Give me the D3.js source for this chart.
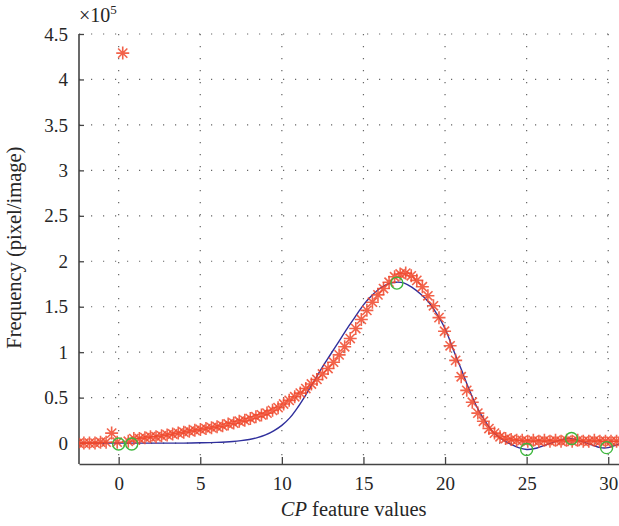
<!DOCTYPE html>
<html>
<head>
<meta charset="utf-8">
<script src="https://cdn.jsdelivr.net/npm/d3@7"></script>
<style>
  body { margin: 0; background: #fff; }
  svg { display: block; font-family: "Liberation Serif", "Times New Roman", serif; }
  .tick text { fill: #262626; font-size: 19px; }
</style>
</head>
<body>
<svg width="619" height="526"></svg>
<script>
// measured data (frequency in units of 1e5)
const dataX = [-2.47, -2.13, -1.79, -1.45, -1.11, -0.77, -0.43, -0.09, 0.25, 0.59,
  0.93, 1.27, 1.61, 1.95, 2.29, 2.63, 2.97, 3.31, 3.65, 3.99,
  4.33, 4.67, 5.01, 5.35, 5.69, 6.03, 6.37, 6.71, 7.05, 7.39,
  7.73, 8.07, 8.41, 8.75, 9.09, 9.43, 9.77, 10.11, 10.45, 10.79,
  11.13, 11.47, 11.81, 12.15, 12.49, 12.83, 13.17, 13.51, 13.85, 14.19,
  14.53, 14.87, 15.21, 15.55, 15.89, 16.23, 16.57, 16.91, 17.25, 17.59,
  17.93, 18.27, 18.61, 18.95, 19.29, 19.63, 19.97, 20.31, 20.65, 20.99,
  21.33, 21.67, 22.01, 22.35, 22.69, 23.03, 23.37, 23.71, 24.05, 24.39,
  24.73, 25.07, 25.41, 25.75, 26.09, 26.43, 26.77, 27.11, 27.45, 27.79,
  28.13, 28.47, 28.81, 29.15, 29.49, 29.83, 30.17, 30.51, 30.85];
const dataY = [0.00, 0.00, 0.00, 0.00, 0.01, 0.01, 0.11, 0.01, 4.29, 0.02,
  0.05, 0.05, 0.06, 0.07, 0.07, 0.08, 0.09, 0.10, 0.11, 0.12,
  0.13, 0.14, 0.15, 0.16, 0.17, 0.18, 0.19, 0.21, 0.22, 0.24,
  0.25, 0.27, 0.29, 0.31, 0.33, 0.36, 0.39, 0.43, 0.47, 0.51,
  0.55, 0.60, 0.65, 0.70, 0.76, 0.82, 0.89, 0.97, 1.06, 1.15,
  1.26, 1.36, 1.46, 1.55, 1.63, 1.70, 1.77, 1.83, 1.86, 1.87,
  1.84, 1.79, 1.72, 1.62, 1.51, 1.38, 1.23, 1.07, 0.91, 0.73,
  0.58, 0.45, 0.33, 0.24, 0.16, 0.11, 0.07, 0.05, 0.04, 0.03,
  0.03, 0.02, 0.03, 0.02, 0.03, 0.02, 0.03, 0.02, 0.03, 0.02,
  0.03, 0.02, 0.02, 0.03, 0.02, 0.02, 0.02, 0.02, 0.02];

// fitted curve
const fitX = [-2.5, 0, 2, 4, 5, 6, 7, 7.5, 8, 8.5, 9, 9.5, 10, 10.5, 11, 11.5, 12, 12.5,
  13, 13.5, 14, 14.5, 15, 15.5, 16, 16.5, 17, 17.5, 18, 18.5, 19, 19.5, 20, 20.5,
  21, 21.5, 22, 22.5, 23, 23.5, 24, 24.5, 25, 25.5, 26, 26.5, 27, 27.5, 28, 28.5,
  29, 29.5, 30, 30.5, 31];
const fitY = [0, 0, 0, 0, 0.003, 0.008, 0.018, 0.027, 0.04, 0.06, 0.09, 0.135, 0.195, 0.28, 0.40, 0.54, 0.69, 0.84,
  0.98, 1.12, 1.26, 1.39, 1.52, 1.62, 1.70, 1.75, 1.77, 1.76, 1.71, 1.64, 1.55, 1.42, 1.26, 1.03,
  0.81, 0.58, 0.38, 0.23, 0.11, 0.04, -0.01, -0.05, -0.07, -0.06, -0.03, 0.00, 0.03, 0.05, 0.04, 0.01,
  -0.02, -0.05, -0.05, -0.02, 0.01];

// knot points
const knotX = [0, 0.8, 17.05, 25.0, 27.75, 29.9];
const knotY = [-0.01, -0.01, 1.76, -0.07, 0.05, -0.05];

const xTicks = [0, 5, 10, 15, 20, 25, 30];
const yTicks = [0, 0.5, 1, 1.5, 2, 2.5, 3, 3.5, 4, 4.5];

const margin = { top: 34, right: 0, bottom: 62, left: 79 };
const width = 619 - margin.left - margin.right;
const height = 526 - margin.top - margin.bottom;

const x = d3.scaleLinear().domain([-2.43, 30.66]).range([0, width]);
const y = d3.scaleLinear().domain([-0.23, 4.5]).range([height, 0]);

const svg = d3.select('svg')
  .append('g')
  .attr('transform', `translate(${margin.left}, ${margin.top})`);

svg.append('clipPath')
  .attr('id', 'clip')
  .append('rect')
  .attr('width', width + 10)
  .attr('height', height);

// dotted grid
const grid = svg.append('g').attr('class', 'grid');
grid.selectAll('.gx')
  .data(xTicks)
  .enter().append('line')
  .attr('x1', d => x(d)).attr('x2', d => x(d))
  .attr('y1', 0).attr('y2', height);
grid.selectAll('.gy')
  .data(yTicks)
  .enter().append('line')
  .attr('x1', 0).attr('x2', width)
  .attr('y1', d => y(d)).attr('y2', d => y(d));
grid.selectAll('line')
  .attr('stroke', '#666')
  .attr('stroke-width', 1.2)
  .attr('stroke-dasharray', '1.2,10.8');

// axes
const xAxis = svg.append('g')
  .attr('transform', `translate(0, ${height})`)
  .call(d3.axisBottom(x).tickValues(xTicks).tickSizeInner(-7).tickSizeOuter(0).tickPadding(13));
const yAxis = svg.append('g')
  .call(d3.axisLeft(y).tickValues(yTicks).tickFormat(d3.format('~g')).tickSizeInner(-5).tickSizeOuter(0).tickPadding(11));
[xAxis, yAxis].forEach(a => {
  a.attr('font-family', '"Liberation Serif", serif');
  a.select('.domain').attr('stroke', '#444').attr('stroke-width', 1.6);
  a.selectAll('.tick line').attr('stroke', '#444').attr('stroke-width', 1.3);
  a.selectAll('text').style('font-family', '"Liberation Serif", serif');
});
yAxis.select('.domain').attr('d', `M0,0V${height}`);

const plot = svg.append('g').attr('clip-path', 'url(#clip)');

// fitted line
plot.append('path')
  .datum(fitX.map((d, i) => [d, fitY[i]]))
  .attr('fill', 'none')
  .attr('stroke', '#2f2f9c')
  .attr('stroke-width', 1.4)
  .attr('d', d3.line().x(d => x(d[0])).y(d => y(d[1])).curve(d3.curveCatmullRom));

// asterisk markers
const star = 'M-6.5,0H6.5M0,-6.5V6.5M-4.6,-4.6L4.6,4.6M-4.6,4.6L4.6,-4.6';
plot.selectAll('.star')
  .data(dataX.map((d, i) => [d, dataY[i]]))
  .enter().append('path')
  .attr('class', 'star')
  .attr('transform', d => `translate(${x(d[0])}, ${y(d[1])})`)
  .attr('d', star)
  .attr('fill', 'none')
  .attr('stroke', '#f0462a')
  .attr('stroke-opacity', 0.85)
  .attr('stroke-width', 1.6);

// knot circles
plot.selectAll('.knot')
  .data(knotX.map((d, i) => [d, knotY[i]]))
  .enter().append('circle')
  .attr('cx', d => x(d[0]))
  .attr('cy', d => y(d[1]))
  .attr('r', 6)
  .attr('fill', 'none')
  .attr('stroke', '#3db83d')
  .attr('stroke-width', 1.4);

// exponent label
const expo = svg.append('text')
  .attr('x', 0)
  .attr('y', -12)
  .attr('fill', '#262626')
  .style('font-size', '20px');
expo.append('tspan').text('×10');
expo.append('tspan').attr('dy', -8).style('font-size', '13px').text('5');

// axis titles
svg.append('text')
  .attr('transform', `translate(${-58}, ${y(2.15)}) rotate(-90)`)
  .attr('text-anchor', 'middle')
  .attr('fill', '#262626')
  .style('font-size', '20.5px')
  .text('Frequency (pixel/image)');

const xl = svg.append('text')
  .attr('x', x(14.4))
  .attr('y', height + 52)
  .attr('text-anchor', 'middle')
  .attr('fill', '#262626')
  .style('font-size', '20.5px');
xl.append('tspan').style('font-style', 'italic').text('CP');
xl.append('tspan').text(' feature values');
</script>
</body>
</html>
